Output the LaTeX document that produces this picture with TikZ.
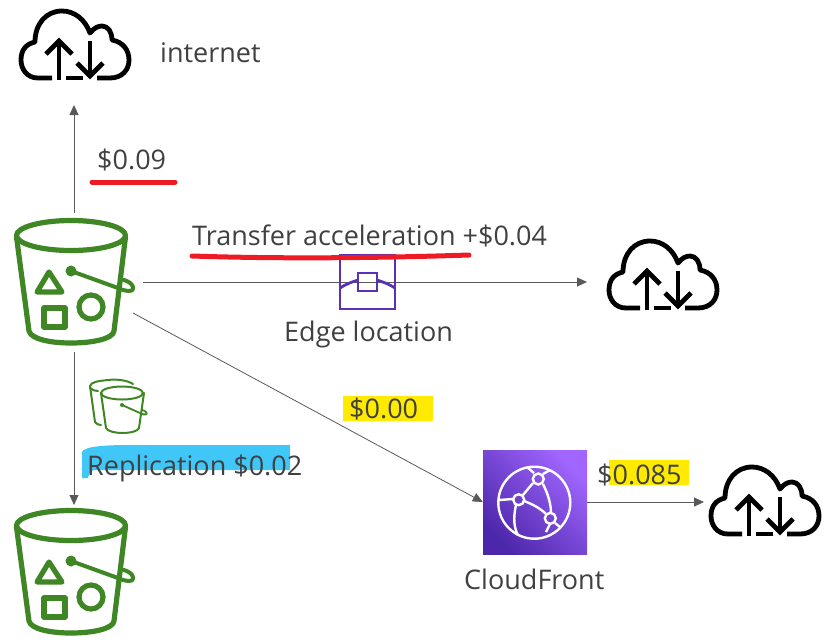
\documentclass[tikz,border=0pt]{standalone}
\usepackage{fontspec}
\setmainfont{Open Sans}
\usetikzlibrary{arrows.meta}
\definecolor{bucketgreen}{HTML}{3F8624}
\definecolor{txt}{HTML}{404040}
\definecolor{edgepurple}{HTML}{5A30B5}
\definecolor{cfdark}{HTML}{4D27AA}
\definecolor{cflight}{HTML}{A166FF}
\definecolor{redmark}{HTML}{ED1C24}
\definecolor{yellowmark}{HTML}{FFEA00}
\definecolor{bluemark}{HTML}{41C6F8}
\definecolor{linegrey}{HTML}{595959}
\tikzset{
  lab/.style={anchor=base west,inner sep=0pt,text=txt,font=\fontsize{27}{32}\selectfont},
  link/.style={draw=linegrey,line width=0.8pt,-{Triangle[length=10pt,width=9pt]}},
  stroke/.style={line cap=round,line join=round},
  pics/cloud/.style={code={
    \draw[black,line width=4.8pt,line join=round]
      (52,78) -- (38,78) .. controls (27,78) and (21,69) .. (21,60)
      .. controls (21,50) and (26,44) .. (35,42)
      .. controls (35,24) and (46,11) .. (62,11)
      .. controls (74,11) and (85,19) .. (90,33)
      .. controls (94,28) and (98,26) .. (102,26)
      .. controls (108,26) and (112,32) .. (112,40)
      .. controls (123,42) and (129,50) .. (129,60)
      .. controls (129,70) and (122,78) .. (110,78) -- (97,78);
    \draw[black,line width=4.8pt] (66,78) -- (83,78);
    \draw[black,line width=4.8pt] (59,80) -- (59,41);
    \draw[black,line width=4.8pt] (46,54) -- (59,41) -- (72,54);
    \draw[black,line width=4.8pt] (90,41) -- (90,76);
    \draw[black,line width=4.8pt] (77,63) -- (90,76) -- (103,63);
  }},
  pics/bucket/.style={code={
    \draw[bucketgreen,line width=5.2pt,stroke] (71,235.5) circle[x radius=54.5,y radius=15];
    \draw[bucketgreen,line width=5.2pt,stroke]
      (16.5,237) -- (29,331) .. controls (31,339) and (50,343) .. (71,343)
      .. controls (92,343) and (113,339) .. (114,331) -- (125.5,237);
    \draw[bucketgreen,line width=5.2pt,stroke] (49,272) -- (37,292) -- (62,292) -- cycle;
    \draw[bucketgreen,line width=5.2pt,stroke] (44,308) rectangle (65,327);
    \draw[bucketgreen,line width=5.2pt] (91,307) circle[radius=12];
    \fill[bucketgreen] (71,271) circle[radius=5.5];
    \draw[bucketgreen,line width=4pt,stroke]
      (71,271) -- (118,288) .. controls (126,292) and (135,292) .. (133,287)
      .. controls (132,283) and (127,281) .. (124,280);
  }},
  pics/smallbucket/.style={code={
    \draw[bucketgreen,line width=2pt,stroke] (122,393) circle[x radius=21,y radius=6.5];
    \draw[bucketgreen,line width=2pt,stroke]
      (101,393) -- (106,428) .. controls (107,431) and (115,433) .. (122,433)
      .. controls (131,433) and (138,431) .. (139,428) -- (144,393);
    \fill[bucketgreen] (122,405) circle[radius=2];
    \draw[bucketgreen,line width=1.8pt,stroke]
      (122,405) -- (140,413) .. controls (146,416) and (148,414) .. (146,412)
      .. controls (145,411) and (143,410) .. (142,410);
    \draw[bucketgreen,line width=2pt,stroke]
      (133,384) .. controls (127,380) and (116,379) .. (108,380)
      .. controls (98,381) and (91,382) .. (90,386)
      -- (95,422) .. controls (96,424) and (99,425) .. (101,425);
    \draw[bucketgreen,line width=2pt,stroke] (90,388) .. controls (92,390) and (95,391) .. (98,391);
  }}
}
\begin{document}
\begin{tikzpicture}[x=1pt,y=-1pt]
\useasboundingbox (0,0) rectangle (826,643);
% highlights beneath the text
\fill[bluemark] (82,452) .. controls (84,447) and (100,445) .. (130,445) -- (290,445) -- (290,470)
  -- (95,470) .. controls (90,470) and (89,474) .. (88,478) -- (82,478) -- cycle;
\fill[yellowmark] (343,396) rectangle (433,421);
\fill[yellowmark] (609,460) rectangle (689,485);
% icons
\pic at (0,0) {bucket};
\pic at (0,290) {bucket};
\pic at (0,0) {smallbucket};
\pic at (0,0) {cloud};
\pic at (588,230) {cloud};
\pic at (690,456) {cloud};
% Named ends of the connectors
\coordinate (topbucketN) at (74,213);
\coordinate (cloudinet) at (74,105);
\coordinate (topbucketE) at (143,282);
\coordinate (cloudedge) at (587,282);
\coordinate (topbucketSE) at (133,313);
\coordinate (topbucketS) at (74,352);
\coordinate (lowbucketN) at (74,505);
\coordinate (cloudcf) at (704,502);
% CloudFront
\node[minimum size=104pt,inner sep=0pt,shading=axis,left color=cfdark,right color=cflight,shading angle=135] (cf) at (535,502) {};
% connectors
\draw[link] (topbucketN) -- (cloudinet);
\draw[link] (topbucketE) -- (cloudedge);
\draw[link] (topbucketSE) -- (cf.west);
\draw[link] (topbucketS) -- (lowbucketN);
\draw[link] (cf.east) -- (cloudcf);
\begin{scope}[white,line width=2.4pt]
  \draw (534.3,502.7) circle[radius=36];
  \draw (538.3,479) circle[radius=5.5];
  \draw (518.7,499.7) circle[radius=5.5];
  \draw (550.3,518.3) circle[radius=5.5];
  \draw (523,495) -- (533,483);
  \draw (543,484) .. controls (548,494) and (551,504) .. (551,513);
  \draw (524,501) .. controls (532,504) and (540,508) .. (546,514);
  \draw (528,468) -- (534,473);
  \draw (543,474) -- (550,470);
  \draw (499,500) -- (513,499);
  \draw (516,505) .. controls (513,518) and (514,528) .. (518,535);
  \draw (550,524) -- (546,532);
  \draw (555,523) -- (560,527);
\end{scope}
% Edge location icon
\begin{scope}[edgepurple,line width=2.8pt]
  \draw (340,255) rectangle (395,309);
  \draw (358,273) rectangle (377,291);
  \draw (340,288) .. controls (346,284) and (352,282) .. (358,280);
  \draw (377,280) .. controls (383,282) and (389,284) .. (395,288);
\end{scope}
% red underlines
\draw[redmark,line width=5pt,line cap=round] (92,182) -- (175,182);
\draw[redmark,line width=5pt,line cap=round] (192,256) .. controls (280,259) and (380,258) .. (469,255);
% labels
\node[lab] (internet) at (160,62) {internet};
\node[lab] (p009) at (97,169) {\$0.09};
\node[lab] (ta) at (192,245) {Transfer acceleration +\$0.04};
\node[lab] (edge) at (284,341) {Edge location};
\node[lab] (p000) at (349,418) {\$0.00};
\node[lab] (repl) at (87,475) {Replication \$0.02};
\node[lab] (p0085) at (597,484) {\$0.085};
\node[lab] (cfl) at (464,589) {CloudFront};
\end{tikzpicture}
\end{document}
